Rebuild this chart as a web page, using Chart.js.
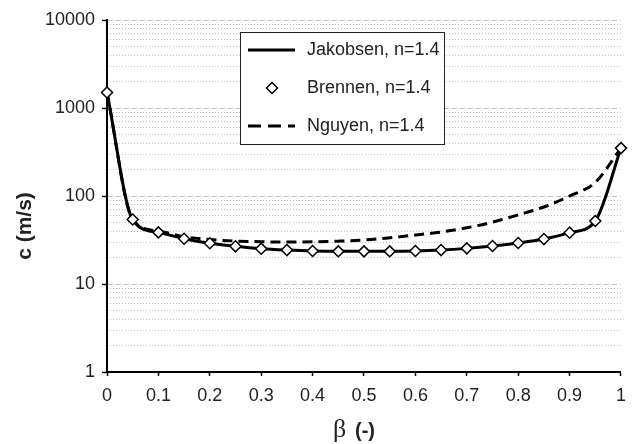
<!DOCTYPE html>
<html>
<head>
<meta charset="utf-8">
<title>Speed of sound vs void fraction</title>
<script src="https://cdn.jsdelivr.net/npm/chart.js@4.4.1/dist/chart.umd.min.js"></script>
<style>
  body { margin: 0; background: #fff; }
  #wrap { width: 635px; height: 444px; }
</style>
</head>
<body>
<div id="wrap"><canvas id="soundChart" width="635" height="444"></canvas></div>
<script>
// void fraction beta (-)
const betaValues = [0, 0.05, 0.1, 0.15, 0.2, 0.25, 0.3, 0.35, 0.4, 0.45, 0.5,
                    0.55, 0.6, 0.65, 0.7, 0.75, 0.8, 0.85, 0.9, 0.95, 1];

// speed of sound c (m/s)
const jakobsen = [1500, 54, 38.6, 32.7, 29, 26.8, 25.2, 24.3, 23.7, 23.5, 23.5,
                  23.5, 23.7, 24.3, 25.4, 27, 29.2, 32.4, 38.3, 52, 350];
const brennen  = [1500, 54, 38.6, 32.7, 29, 26.8, 25.2, 24.3, 23.7, 23.5, 23.5,
                  23.5, 23.7, 24.3, 25.4, 27, 29.2, 32.4, 38.3, 52, 350];
const nguyen   = [1500, 54, 40, 34.5, 32, 30.8, 30.2, 30, 30.2, 30.7, 31.6,
                  33.5, 36, 39, 43.5, 50.5, 61, 75, 100, 143, 350];

const seriesNames = ['Jakobsen, n=1.4', 'Brennen, n=1.4', 'Nguyen, n=1.4'];

// axis ticks
const xTicks = [0, 0.1, 0.2, 0.3, 0.4, 0.5, 0.6, 0.7, 0.8, 0.9, 1];
const yTicks = [1, 10, 100, 1000, 10000];

let minorTicks = [];
yTicks.slice(0, -1).forEach(d => {
    for (let m = 2; m <= 9; m++) minorTicks.push(d * m);
});

const pairs = vals => vals.map((v, i) => ({ x: betaValues[i], y: v }));

const FONT = "'Liberation Sans', Arial, sans-serif";
const TEXT = '#222';

// titles and the boxed legend are drawn on top of the plot
const overlay = {
    id: 'overlay',
    afterDraw(chart) {
        const ctx = chart.ctx;
        const ds = chart.data.datasets;
        ctx.save();

        // y title
        ctx.fillStyle = TEXT;
        ctx.translate(25, 226);
        ctx.rotate(-Math.PI / 2);
        ctx.textAlign = 'center';
        ctx.textBaseline = 'middle';
        ctx.font = "bold 21px " + FONT;
        ctx.fillText('c (m/s)', 0, 0);
        ctx.setTransform(1, 0, 0, 1, 0, 0);

        // x title
        ctx.textAlign = 'left';
        ctx.textBaseline = 'alphabetic';
        ctx.font = "26px 'Liberation Serif', serif";
        ctx.fillText('β', 333, 437);
        ctx.font = "bold 20px " + FONT;
        ctx.fillText('(-)', 355, 437);

        // legend box
        ctx.fillStyle = '#fff';
        ctx.fillRect(240, 32, 204, 112);
        ctx.strokeStyle = '#222';
        ctx.lineWidth = 1;
        ctx.strokeRect(240.5, 32.5, 204, 112);

        const rows = [50, 88, 126];
        ctx.strokeStyle = '#000';
        ctx.lineWidth = 3;
        ctx.beginPath();
        ctx.moveTo(248, rows[0]);
        ctx.lineTo(295, rows[0]);
        ctx.stroke();

        ctx.setLineDash([13, 7]);
        ctx.beginPath();
        ctx.moveTo(248, rows[2]);
        ctx.lineTo(295, rows[2]);
        ctx.stroke();
        ctx.setLineDash([]);

        ctx.fillStyle = '#fff';
        ctx.lineWidth = 1.5;
        ctx.beginPath();
        ctx.moveTo(272, rows[1] - 5.5);
        ctx.lineTo(277.5, rows[1]);
        ctx.lineTo(272, rows[1] + 5.5);
        ctx.lineTo(266.5, rows[1]);
        ctx.closePath();
        ctx.fill();
        ctx.stroke();

        ctx.fillStyle = TEXT;
        ctx.font = "18px " + FONT;
        ctx.textBaseline = 'middle';
        ds.forEach((d, i) => ctx.fillText(d.label, 307, rows[i]));

        ctx.restore();
    }
};

new Chart(document.getElementById('soundChart'), {
    type: 'line',
    data: {
        datasets: [{
            label: seriesNames[0],
            data: pairs(jakobsen),
            borderColor: '#000',
            borderWidth: 3,
            pointRadius: 0,
            cubicInterpolationMode: 'monotone',
            order: 1
        }, {
            label: seriesNames[1],
            data: pairs(brennen),
            showLine: false,
            pointStyle: 'rectRot',
            pointRadius: 5.5,
            pointBorderWidth: 1.5,
            pointBorderColor: '#000',
            pointBackgroundColor: '#fff',
            clip: false,
            order: 0
        }, {
            label: seriesNames[2],
            data: pairs(nguyen),
            borderColor: '#000',
            borderWidth: 3,
            borderDash: [10, 6],
            pointRadius: 0,
            cubicInterpolationMode: 'monotone',
            order: 2
        }]
    },
    options: {
        responsive: false,
        animation: false,
        layout: { padding: { left: 0, right: 10, top: 20, bottom: 0 } },
        plugins: { legend: { display: false }, tooltip: { enabled: false } },
        scales: {
            x: {
                type: 'linear',
                min: 0,
                max: 1,
                afterBuildTicks: axis => { axis.ticks = xTicks.map(v => ({ value: v })); },
                afterFit: axis => { axis.height = 72; },
                ticks: {
                    callback: v => String(Math.round(v * 10) / 10),
                    font: { family: FONT, size: 18 },
                    color: TEXT,
                    padding: 9,
                    maxRotation: 0
                },
                grid: { drawOnChartArea: false, tickLength: 4, tickColor: '#000', tickWidth: 1.5 },
                border: { color: '#000', width: 2 }
            },
            y: {
                type: 'logarithmic',
                min: 1,
                max: 10000,
                afterBuildTicks: axis => { axis.ticks = yTicks.map(v => ({ value: v })); },
                afterFit: axis => { axis.width = 107; },
                ticks: {
                    callback: v => String(v),
                    font: { family: FONT, size: 18 },
                    color: TEXT,
                    padding: 7,
                    autoSkip: false
                },
                grid: { color: '#bdbdbd', lineWidth: 1, tickLength: 5, tickColor: '#000', tickWidth: 1.5 },
                border: { color: '#000', width: 2, dash: [5, 3] }
            },
            yMinor: {
                type: 'logarithmic',
                position: 'left',
                min: 1,
                max: 10000,
                afterBuildTicks: axis => { axis.ticks = minorTicks.map(v => ({ value: v })); },
                afterFit: axis => { axis.width = 0; },
                ticks: { display: false },
                grid: { color: '#c4c4c4', lineWidth: 1, drawTicks: false },
                border: { display: false, dash: [1, 2] }
            }
        }
    },
    plugins: [overlay]
});
</script>
</body>
</html>
